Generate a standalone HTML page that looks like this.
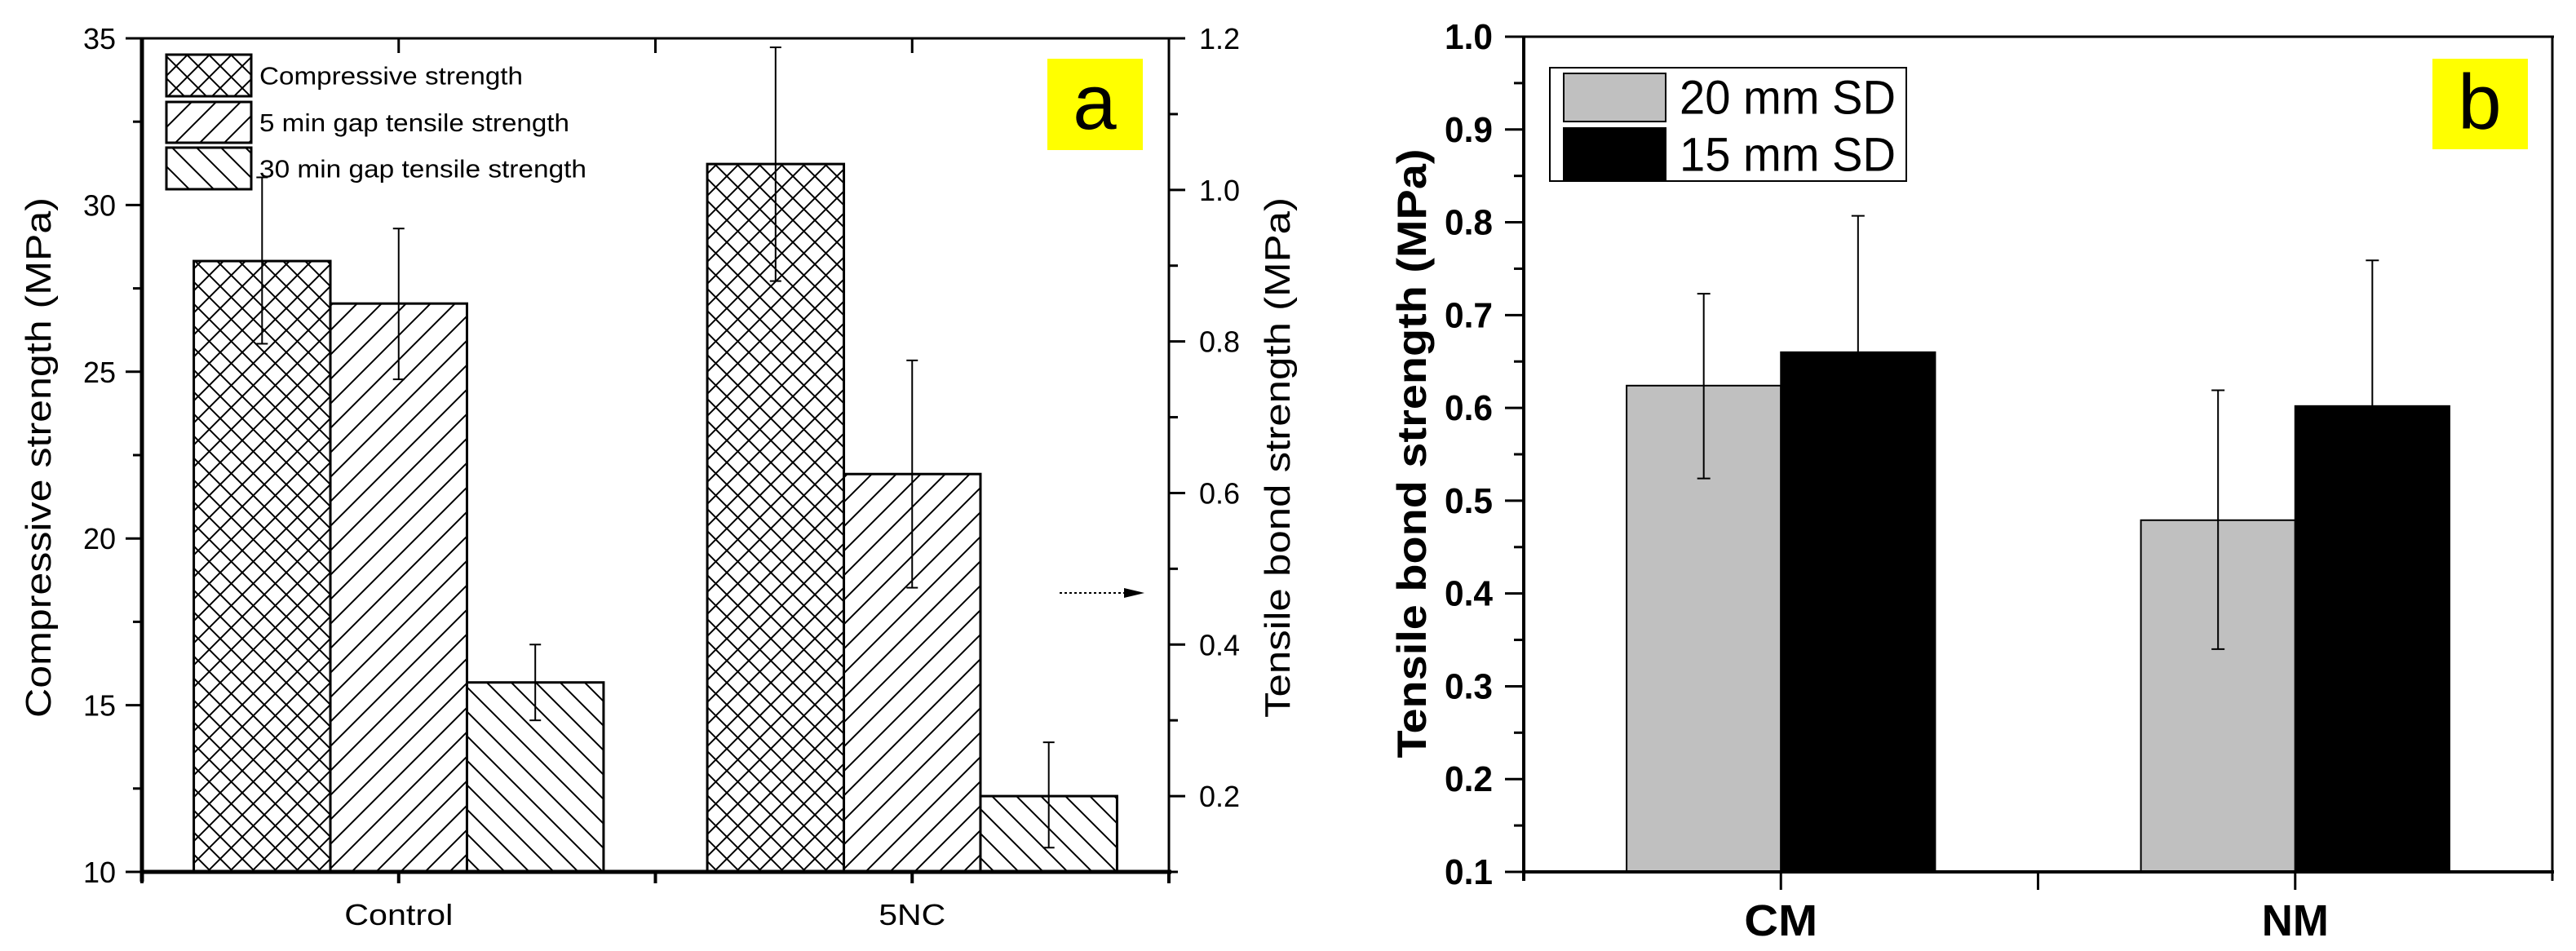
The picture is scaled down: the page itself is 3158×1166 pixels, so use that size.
<!DOCTYPE html>
<html><head><meta charset="utf-8"><style>
html,body{margin:0;padding:0;background:#fff;}
svg{display:block;font-family:"Liberation Sans",Arial,sans-serif;}
</style></head><body>
<svg id="root" width="3158" height="1166" viewBox="0 0 3158 1166" xmlns="http://www.w3.org/2000/svg">
<defs>
<pattern id="pCross" patternUnits="userSpaceOnUse" width="27" height="27">
<path d="M0,0 L27,27 M27,0 L0,27" stroke="#000" stroke-width="2" fill="none"/>
</pattern>
<pattern id="pFwd" patternUnits="userSpaceOnUse" width="30" height="30">
<path d="M-5,35 L35,-5 M-5,5 L5,-5 M25,35 L35,25" stroke="#000" stroke-width="2" fill="none"/>
</pattern>
<pattern id="pBack" patternUnits="userSpaceOnUse" width="30" height="30">
<path d="M-5,-5 L35,35 M25,-5 L35,5 M-5,25 L5,35" stroke="#000" stroke-width="2" fill="none"/>
</pattern>
</defs>
<g id="chartA"></g>
<g id="chartB"></g>
</svg>
<script>
// ---- Chart A data ----
const catsA = ["Control", "5NC"];
const compVals = [28.32, 31.23];
const compLo = [25.84, 27.72];
const compHi = [30.83, 34.73];
const ten5Vals = [0.850, 0.625];
const ten5Lo = [0.750, 0.475];
const ten5Hi = [0.949, 0.775];
const ten30Vals = [0.350, 0.200];
const ten30Lo = [0.300, 0.132];
const ten30Hi = [0.400, 0.271];
const leftTicksA = [10, 15, 20, 25, 30, 35];
const rightTicksA = [0.2, 0.4, 0.6, 0.8, 1.0, 1.2];
const legendA = ["Compressive strength", "5 min gap tensile strength", "30 min gap tensile strength"];
// ---- Chart B data ----
const catsB = ["CM", "NM"];
const sd20Vals = [0.624, 0.479];
const sd20Lo = [0.524, 0.340];
const sd20Hi = [0.723, 0.619];
const sd15Vals = [0.660, 0.602];
const sd15Lo = [0.513, 0.445];
const sd15Hi = [0.807, 0.759];
const ticksB = [0.1, 0.2, 0.3, 0.4, 0.5, 0.6, 0.7, 0.8, 0.9, 1.0];
const legendB = ["20 mm SD", "15 mm SD"];

const NS = "http://www.w3.org/2000/svg";
function mk(parent, tag, attrs, text) {
  const e = document.createElementNS(NS, tag);
  for (const k in attrs) e.setAttribute(k, attrs[k]);
  if (text !== undefined) e.textContent = text;
  parent.appendChild(e);
  return e;
}

// ===== Chart A =====
(function () {
  const g = document.getElementById("chartA");
  const L = 174, R = 1433, T = 47, B = 1069;
  const xA = v => L + (v - 0.5) * (R - L) / 2;
  const yL = v => B - (v - 10) * (B - T) / 25;
  const yR = v => B - (v - 0.1) * (B - T) / 1.1;
  const bw = 0.266;
  const series = [
    {vals: compVals, lo: compLo, hi: compHi, y: yL, fill: "url(#pCross)", off: -1, name: "compressive"},
    {vals: ten5Vals, lo: ten5Lo, hi: ten5Hi, y: yR, fill: "url(#pFwd)", off: 0, name: "tensile-5min"},
    {vals: ten30Vals, lo: ten30Lo, hi: ten30Hi, y: yR, fill: "url(#pBack)", off: 1, name: "tensile-30min"}
  ];
  series.forEach(s => {
    catsA.forEach((c, i) => {
      const cx = xA(i + 1) + s.off * (xA(1 + bw) - xA(1));
      const x0 = cx - (xA(1 + bw) - xA(1)) / 2, x1 = cx + (xA(1 + bw) - xA(1)) / 2;
      const yt = s.y(s.vals[i]);
      const r = mk(g, "rect", {x: x0, y: yt, width: x1 - x0, height: B - yt, fill: "#fff", stroke: "none"});
      
      
      const r2 = mk(g, "rect", {x: x0, y: yt, width: x1 - x0, height: B - yt, fill: s.fill, stroke: "#000", "stroke-width": 3});
      
      
      const eg = mk(g, "g", {stroke: "#000", "stroke-width": 2});
      
      
      const yh = s.y(s.hi[i]), yl = s.y(s.lo[i]);
      mk(eg, "line", {x1: cx, x2: cx, y1: yh, y2: yl});
      mk(eg, "line", {x1: cx - 7, x2: cx + 7, y1: yh, y2: yh});
      mk(eg, "line", {x1: cx - 7, x2: cx + 7, y1: yl, y2: yl});
    });
  });
  const ax = mk(g, "g", {stroke: "#000", fill: "none"});
  
  
  mk(ax, "line", {x1: L, x2: L, y1: T - 1, y2: B + 12, "stroke-width": 5});
  mk(ax, "line", {x1: L - 2, x2: R + 3, y1: B, y2: B, "stroke-width": 5});
  mk(ax, "line", {x1: L, x2: R + 10, y1: T, y2: T, "stroke-width": 3});
  mk(ax, "line", {x1: R, x2: R, y1: T, y2: B + 12, "stroke-width": 3});
  for (let v = 10; v <= 35; v += 2.5) {
    const major = Math.abs(v % 5) < 1e-6;
    mk(ax, "line", {x1: L - (major ? 20 : 11), x2: L, y1: yL(v), y2: yL(v), "stroke-width": 3});
  }
  leftTicksA.forEach(v => {
    const t = mk(g, "text", {x: 142, y: yL(v) + 13, "text-anchor": "end", "font-size": 36}, String(v));
    
    
  });
  for (let k = 1; k <= 12; k++) {
    const v = k / 10, major = k % 2 === 0;
    mk(ax, "line", {x1: R, x2: R + (major ? 20 : 11), y1: yR(v), y2: yR(v), "stroke-width": 3});
  }
  rightTicksA.forEach(v => {
    const t = mk(g, "text", {x: 1470, y: yR(v) + 13, "text-anchor": "start", "font-size": 36}, v.toFixed(1));
    
    
  });
  [0.5, 1, 1.5, 2, 2.5].forEach(v => {
    mk(ax, "line", {x1: xA(v), x2: xA(v), y1: B, y2: B + 14, "stroke-width": 4});
  });
  [1, 1.5, 2].forEach(v => {
    mk(ax, "line", {x1: xA(v), x2: xA(v), y1: T, y2: T + 18, "stroke-width": 3});
  });
  catsA.forEach((c, i) => {
    const t = mk(g, "text", {x: xA(i + 1), y: 1134, "text-anchor": "middle", "font-size": 36, textLength: i === 0 ? 133 : 82, lengthAdjust: "spacingAndGlyphs"}, c);
    
    
  });
  const tl = mk(g, "text", {x: 0, y: 0, transform: "translate(62,561) rotate(-90)", "text-anchor": "middle", "font-size": 44, textLength: 638, lengthAdjust: "spacingAndGlyphs"}, "Compressive strength (MPa)");
  
  
  const tr = mk(g, "text", {x: 0, y: 0, transform: "translate(1581,561) rotate(-90)", "text-anchor": "middle", "font-size": 44, textLength: 638, lengthAdjust: "spacingAndGlyphs"}, "Tensile bond strength (MPa)");
  
  
  const fills = ["url(#pCross)", "url(#pFwd)", "url(#pBack)"];
  const rows = [[67, 118], [125, 175], [181, 232]];
  const widths = [323, 380, 401];
  legendA.forEach((name, i) => {
    const lg = mk(g, "g", {});
    
    
    mk(lg, "rect", {x: 204, y: rows[i][0], width: 104, height: rows[i][1] - rows[i][0], fill: "#fff"});
    mk(lg, "rect", {x: 204, y: rows[i][0], width: 104, height: rows[i][1] - rows[i][0], fill: fills[i], stroke: "#000", "stroke-width": 3});
    mk(lg, "text", {x: 318, y: (rows[i][0] + rows[i][1]) / 2 + 11, "font-size": 31, textLength: widths[i], lengthAdjust: "spacingAndGlyphs"}, name);
  });
  const pa = mk(g, "g", {});
  
  
  mk(pa, "rect", {x: 1284, y: 72, width: 117, height: 112, fill: "#ffff00"});
  mk(pa, "text", {x: 1342, y: 158, "text-anchor": "middle", "font-size": 96}, "a");
  const ar = mk(g, "g", {});
  
  
  mk(ar, "line", {x1: 1299, x2: 1380, y1: 727, y2: 727, stroke: "#000", "stroke-width": 2, "stroke-dasharray": "3,3"});
  mk(ar, "path", {d: "M1378,721 L1403,727 L1378,733 Z", fill: "#000"});
})();

// ===== Chart B =====
(function () {
  const g = document.getElementById("chartB");
  const L = 1868, R = 3129, T = 45, B = 1069;
  const xB = v => L + (v - 0.5) * (R - L) / 2;
  const yB = v => B - (v - 0.1) * (B - T) / 0.9;
  const bw = 0.3;
  const series = [
    {vals: sd20Vals, lo: sd20Lo, hi: sd20Hi, fill: "#c0c0c0", off: -0.5, name: "20mm"},
    {vals: sd15Vals, lo: sd15Lo, hi: sd15Hi, fill: "#000", off: 0.5, name: "15mm"}
  ];
  series.forEach(s => {
    catsB.forEach((c, i) => {
      const cx = xB(i + 1 + s.off * bw);
      const half = (xB(1 + bw) - xB(1)) / 2;
      const yt = yB(s.vals[i]);
      const r = mk(g, "rect", {x: cx - half, y: yt, width: 2 * half, height: B - yt, fill: s.fill, stroke: "#000", "stroke-width": 2});
      
      
      const eg = mk(g, "g", {stroke: "#000", "stroke-width": 2});
      
      
      const yh = yB(s.hi[i]), yl = yB(s.lo[i]);
      mk(eg, "line", {x1: cx, x2: cx, y1: yh, y2: yl});
      mk(eg, "line", {x1: cx - 8, x2: cx + 8, y1: yh, y2: yh});
      mk(eg, "line", {x1: cx - 8, x2: cx + 8, y1: yl, y2: yl});
    });
  });
  const ax = mk(g, "g", {stroke: "#000", fill: "none"});
  
  
  mk(ax, "line", {x1: L, x2: L, y1: T - 1, y2: B + 11, "stroke-width": 4});
  mk(ax, "line", {x1: L - 2, x2: R + 2, y1: B, y2: B, "stroke-width": 4});
  mk(ax, "line", {x1: L, x2: R + 2, y1: T, y2: T, "stroke-width": 3});
  mk(ax, "line", {x1: R, x2: R, y1: T, y2: B + 11, "stroke-width": 3});
  for (let k = 2; k <= 20; k++) {
    const v = k / 20, major = k % 2 === 0;
    mk(ax, "line", {x1: L - (major ? 23 : 12), x2: L, y1: yB(v), y2: yB(v), "stroke-width": 3});
  }
  ticksB.forEach(v => {
    const t = mk(g, "text", {x: 1830, y: yB(v) + 15, "text-anchor": "end", "font-size": 44, "font-weight": "bold", textLength: 59, lengthAdjust: "spacingAndGlyphs"}, v.toFixed(1));
    
    
  });
  [1, 1.5, 2].forEach(v => {
    mk(ax, "line", {x1: xB(v), x2: xB(v), y1: B, y2: B + 22, "stroke-width": 3});
  });
  catsB.forEach((c, i) => {
    const t = mk(g, "text", {x: xB(i + 1), y: 1147, "text-anchor": "middle", "font-size": 54, "font-weight": "bold", textLength: i === 0 ? 90 : 82, lengthAdjust: "spacingAndGlyphs"}, c);
    
    
  });
  const yt = mk(g, "text", {x: 0, y: 0, transform: "translate(1748,556) rotate(-90)", "text-anchor": "middle", "font-size": 50, "font-weight": "bold", textLength: 747, lengthAdjust: "spacingAndGlyphs"}, "Tensile bond strength (MPa)");
  
  
  const lb = mk(g, "g", {});
  
  
  mk(lb, "rect", {x: 1900, y: 83, width: 437, height: 139, fill: "#fff", stroke: "#000", "stroke-width": 2});
  const sw = [["#c0c0c0", 90, 149], ["#000", 157, 222]];
  legendB.forEach((name, i) => {
    const e = mk(lb, "g", {});
    
    
    mk(e, "rect", {x: 1917, y: sw[i][1], width: 125, height: sw[i][2] - sw[i][1], fill: sw[i][0], stroke: "#000", "stroke-width": 2});
    mk(e, "text", {x: 2059, y: (sw[i][1] + sw[i][2]) / 2 + 20, "font-size": 58, textLength: 265, lengthAdjust: "spacingAndGlyphs"}, name);
  });
  const pb = mk(g, "g", {});
  
  
  mk(pb, "rect", {x: 2982, y: 72, width: 117, height: 111, fill: "#ffff00"});
  mk(pb, "text", {x: 3040, y: 158, "text-anchor": "middle", "font-size": 96}, "b");
})();
</script>
</body></html>
